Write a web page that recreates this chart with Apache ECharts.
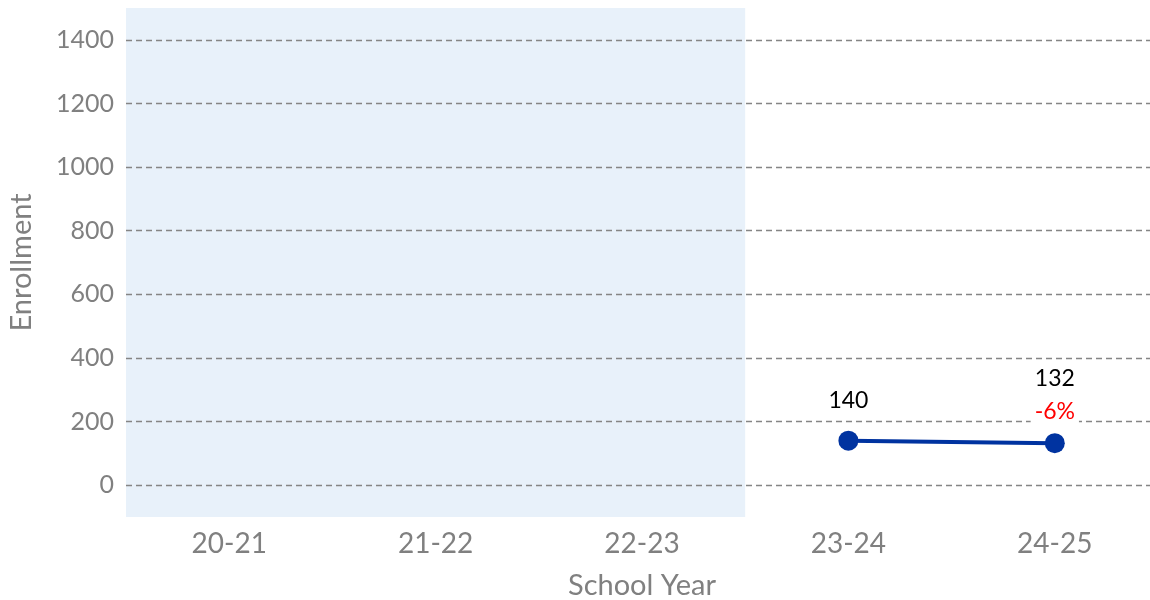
<!DOCTYPE html>
<html>
<head>
<meta charset="utf-8">
<script src="https://cdn.jsdelivr.net/npm/echarts@6/dist/echarts.min.js"></script>
<style>
  html, body { margin: 0; padding: 0; background: #fff; }
  #chart { width: 1150px; height: 600px; }
</style>
</head>
<body>
<div id="chart"></div>
<script>
const years = ['20-21', '21-22', '22-23', '23-24', '24-25'];
const enrollment = [null, null, null, 140, 132];
const changeLabels = ['', '', '', '', '-6%'];
const shadedYears = ['20-21', '21-22', '22-23'];
const gridValues = [0, 200, 400, 600, 800, 1000, 1200, 1400];

const shadeColor = '#e8f1fa';
const grey = '#808080';
const font = 'Lato, "Open Sans", sans-serif';

const chart = echarts.init(document.getElementById('chart'));

chart.setOption({
  animation: false,
  textStyle: { fontFamily: font },
  grid: { left: 126, right: -8, top: 8, bottom: 83, outerBoundsMode: 'none', containLabel: false },
  xAxis: {
    type: 'category',
    data: years,
    name: 'School Year',
    nameLocation: 'middle',
    nameGap: 54,
    nameTextStyle: { color: grey, fontSize: 29, fontFamily: font },
    axisLine: { show: false },
    axisTick: { show: false },
    axisLabel: { color: grey, fontSize: 28, margin: 13, fontFamily: font },
    splitArea: {
      show: true,
      areaStyle: {
        color: years.map(y => shadedYears.includes(y) ? shadeColor : 'rgba(0,0,0,0)')
      }
    }
  },
  yAxis: {
    type: 'value',
    min: -100,
    max: 1500,
    interval: 100,
    name: 'Enrollment',
    nameLocation: 'middle',
    nameGap: 90,
    nameTextStyle: { color: grey, fontSize: 29, fontFamily: font },
    axisLine: { show: false },
    axisTick: { show: false },
    splitLine: { show: false },
    axisLabel: {
      color: grey,
      fontSize: 25,
      margin: 12,
      fontFamily: font,
      formatter: v => gridValues.includes(v) ? String(v) : ''
    }
  },
  series: [
    {
      type: 'line',
      data: enrollment,
      connectNulls: false,
      symbol: 'circle',
      symbolSize: 20,
      lineStyle: { color: '#0033a0', width: 4 },
      itemStyle: { color: '#0033a0' },
      label: {
        show: true,
        position: 'top',
        distance: 14,
        color: '#000',
        fontSize: 23,
        fontFamily: font,
        lineHeight: 32,
        formatter: p => changeLabels[p.dataIndex]
          ? '{v|' + p.value + '}\n{r|' + changeLabels[p.dataIndex] + '}'
          : String(p.value),
        rich: {
          v: { color: '#000', fontSize: 23, fontFamily: font, lineHeight: 50 },
          r: { color: '#ff0000', fontSize: 23, fontFamily: font, lineHeight: 16, backgroundColor: '#fff', padding: [4, 4] }
        }
      },
      markLine: {
        silent: true,
        symbol: 'none',
        label: { show: false },
        lineStyle: { color: '#858585', type: [6, 4], width: 1.3 },
        data: gridValues.map(v => ({ yAxis: v }))
      },
      z: 5
    }
  ]
});
</script>
</body>
</html>
